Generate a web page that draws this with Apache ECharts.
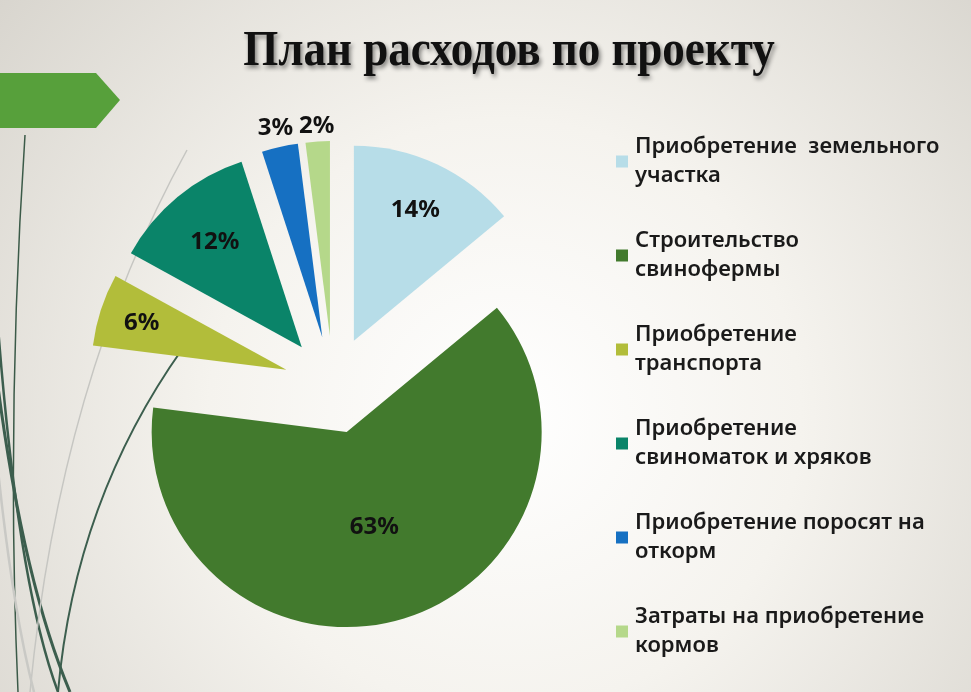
<!DOCTYPE html>
<html>
<head>
<meta charset="utf-8">
<title>План расходов по проекту</title>
<script src="https://cdn.jsdelivr.net/npm/echarts@6/dist/echarts.min.js"></script>
<style>
  html, body { margin: 0; padding: 0; }
  #chart { width: 971px; height: 692px; }
</style>
</head>
<body>
<div id="chart"></div>
<script>
'use strict';

// data
var titleText = 'План расходов по проекту';
var categories = [
  'Приобретение земельного участка',
  'Строительство свинофермы',
  'Приобретение транспорта',
  'Приобретение свиноматок и хряков',
  'Приобретение поросят на откорм',
  'Затраты на приобретение кормов'
];
var legendLines = [
  'Приобретение  земельного\nучастка',
  'Строительство\nсвинофермы',
  'Приобретение\nтранспорта',
  'Приобретение\nсвиноматок и хряков',
  'Приобретение поросят на\nоткорм',
  'Затраты на приобретение\nкормов'
];
var shares = [14, 63, 6, 12, 3, 2];

var colors = ['#b7dde8', '#427a2d', '#b2bd3a', '#0a8469', '#1670c2', '#b5d88a'];
// where each label sits along its slice, as a fraction of the radius
var labelRadius = [0.74, 0.51, 0.78, 0.7, 1.10, 1.08];

var center = [333, 385];
var radius = 195;
var explode = 49;
var font = '"Noto Sans", sans-serif';

var chart = echarts.init(document.getElementById('chart'));

var pieData = categories.map(function(name, i) {
  return {
    name: name,
    value: shares[i],
    selected: true,
    itemStyle: { color: colors[i] }
  };
});

chart.setOption({
  animation: false,
  backgroundColor: new echarts.graphic.RadialGradient(0.52, 0.6, 0.95, [
    { offset: 0, color: '#ffffff' },
    { offset: 0.45, color: '#f5f3ee' },
    { offset: 1, color: '#d8d5ce' }
  ]),
  legend: {
    orient: 'vertical',
    left: 611,
    top: 113,
    icon: 'rect',
    itemWidth: 12,
    itemHeight: 12,
    itemGap: 7,
    selectedMode: false,
    data: categories,
    formatter: function(name) {
      return legendLines[categories.indexOf(name)];
    },
    textStyle: {
      fontFamily: font,
      fontWeight: 600,
      fontSize: 22,
      lineHeight: 29,
      color: '#1a1a1a',
      padding: [29, 0, 0, 2]
    }
  },
  graphic: [
    {
      // slide title, a little narrower than the stock serif
      type: 'text',
      x: 509,
      y: 52,
      scaleX: 0.9,
      z: 10,
      style: {
        text: titleText,
        align: 'center',
        verticalAlign: 'middle',
        font: 'bold 50px "Liberation Serif", "Times New Roman", serif',
        fill: '#111',
        textShadowColor: 'rgba(0,0,0,0.45)',
        textShadowBlur: 4,
        textShadowOffsetX: 2,
        textShadowOffsetY: 3
      }
    },
    {
      type: 'polygon',
      z: 0,
      shape: { points: [[0, 73], [96, 73], [120, 100], [96, 128], [0, 128]] },
      style: { fill: '#57a03b' }
    },
    {
      type: 'bezierCurve', z: 0,
      shape: { x1: 25, y1: 135, cpx1: 6, cpy1: 420, x2: 18, y2: 692 },
      style: { stroke: '#3b5a48', lineWidth: 1.5, fill: null }
    },
    {
      type: 'bezierCurve', z: 0,
      shape: { x1: -12, y1: 300, cpx1: 14, cpy1: 560, x2: 70, y2: 692 },
      style: { stroke: '#3c5e4e', lineWidth: 3, fill: null }
    },
    {
      type: 'bezierCurve', z: 0,
      shape: { x1: -4, y1: 300, cpx1: 16, cpy1: 580, x2: 58, y2: 692 },
      style: { stroke: '#3c5e4e', lineWidth: 2.5, fill: null }
    },
    {
      type: 'bezierCurve', z: 0,
      shape: { x1: 183, y1: 348, cpx1: 75, cpy1: 500, x2: 58, y2: 692 },
      style: { stroke: '#3c5e4e', lineWidth: 2, fill: null }
    },
    {
      type: 'bezierCurve', z: 0,
      shape: { x1: 187, y1: 150, cpx1: 60, cpy1: 380, x2: 30, y2: 692 },
      style: { stroke: '#c6c6c2', lineWidth: 1.5, fill: null }
    },
    {
      type: 'bezierCurve', z: 0,
      shape: { x1: -6, y1: 430, cpx1: 10, cpy1: 600, x2: 34, y2: 692 },
      style: { stroke: '#c9c9c5', lineWidth: 2.5, fill: null }
    }
  ],
  series: [{
    type: 'pie',
    center: center,
    radius: radius,
    startAngle: 90,
    clockwise: true,
    selectedMode: 'multiple',
    selectedOffset: explode,
    avoidLabelOverlap: false,
    itemStyle: { borderWidth: 0 },
    emphasis: { disabled: true },
    select: { itemStyle: { borderWidth: 0 } },
    label: {
      show: true,
      position: 'inside',
      formatter: '{c}%',
      fontFamily: font,
      fontWeight: 'bold',
      fontSize: 24,
      color: '#111'
    },
    labelLine: { show: false },
    // the label rect is measured before the slice is pulled out,
    // so the target distance is taken from the un-exploded centre
    labelLayout: function(params) {
      var r = params.labelRect;
      var lx = r.x + r.width / 2 - center[0];
      var ly = r.y + r.height / 2 - center[1];
      var dist = Math.sqrt(lx * lx + ly * ly) || 1;
      var want = labelRadius[params.dataIndex] * radius;
      return {
        dx: lx / dist * (want - dist),
        dy: ly / dist * (want - dist)
      };
    },
    data: pieData
  }]
});
</script>
</body>
</html>
